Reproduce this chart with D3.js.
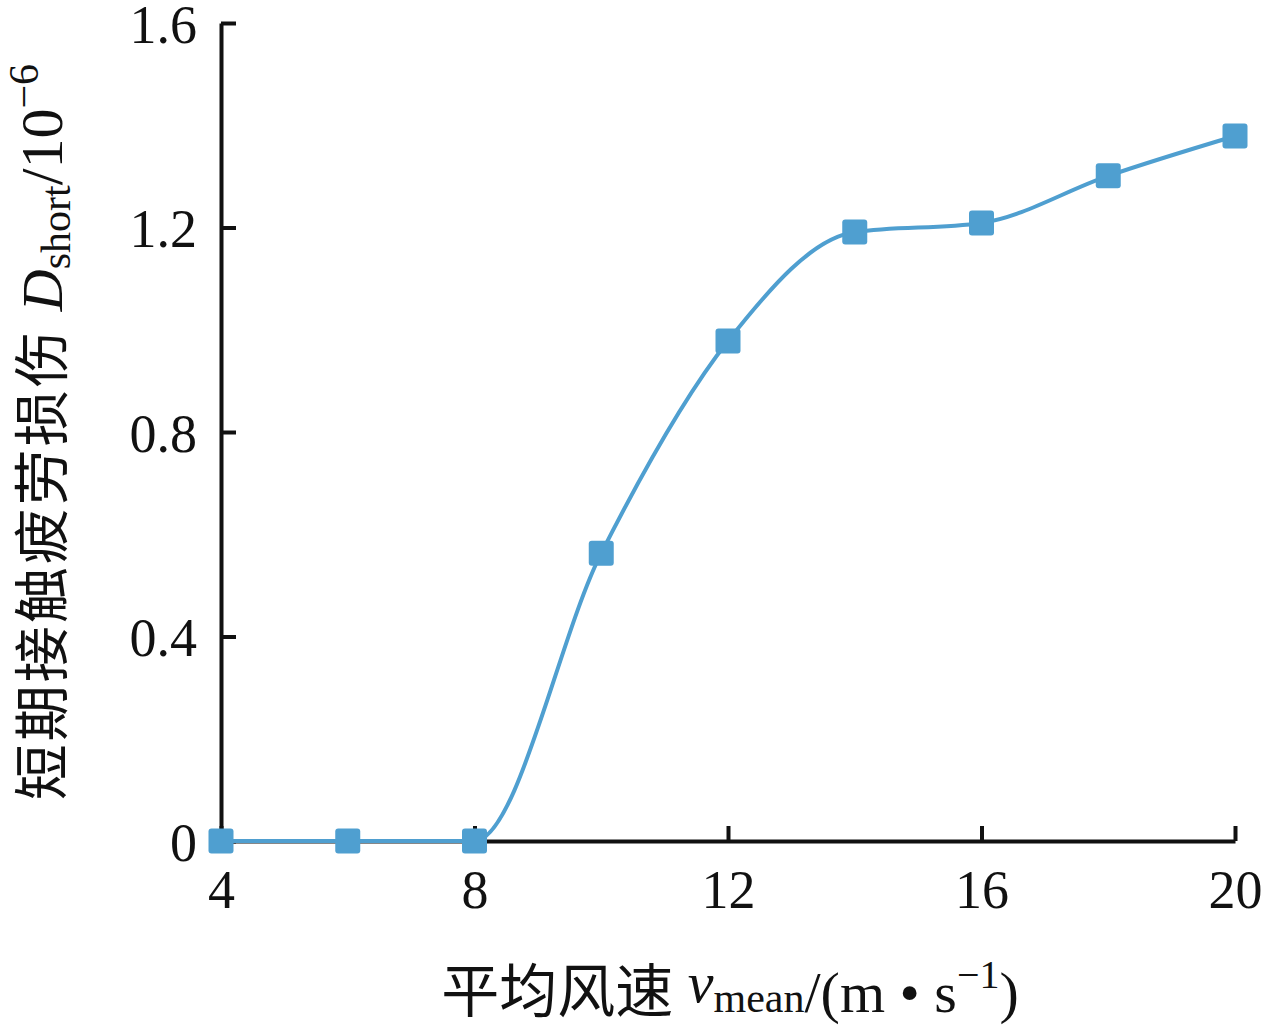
<!DOCTYPE html>
<html>
<head>
<meta charset="utf-8">
<script src="https://cdn.jsdelivr.net/npm/d3@7"></script>
<style>
  body { margin: 0; background: #fff; }
  svg text { font-family: "Liberation Serif", "Times New Roman", "Noto Sans CJK SC", serif; fill: #111; }
</style>
</head>
<body>
<div id="chart"></div>
<script>
// wind speed (m/s) and short term contact fatigue damage (1e-6)
const windSpeed = [4, 6, 8, 10, 12, 14, 16, 18, 20];
const damage = [0, 0, 0, 0.563, 0.978, 1.191, 1.209, 1.301, 1.379];
const xTicks = [4, 8, 12, 16, 20];
const yTicks = [0, 0.4, 0.8, 1.2, 1.6];

const width = 1265;
const height = 1025;
const color = "#4f9fd0";

const svg = d3.select("#chart")
  .append("svg")
  .attr("width", width)
  .attr("height", height);

// Scales
const x = d3.scaleLinear().domain([4, 20]).range([221, 1235]);
const y = d3.scaleLinear().domain([0, 1.6]).range([841, 23]);

// Axes, ticks pointing inwards
const xAxis = d3.axisBottom(x)
  .tickValues(xTicks)
  .tickSizeInner(-15)
  .tickSizeOuter(0)
  .tickPadding(29)
  .tickFormat(d3.format("d"));

const yAxis = d3.axisLeft(y)
  .tickValues(yTicks)
  .tickSizeInner(-15)
  .tickSizeOuter(0)
  .tickPadding(24)
  .tickFormat(d => (d === 0 ? "0" : d3.format(".1f")(d)));

const gx = svg.append("g")
  .attr("transform", "translate(0," + y(0) + ")")
  .call(xAxis);

const gy = svg.append("g")
  .attr("transform", "translate(" + x(4) + ",0)")
  .call(yAxis);

[gx, gy].forEach(g => {
  g.select(".domain").attr("stroke", "#111").attr("stroke-width", 4);
  g.selectAll(".tick line").attr("stroke", "#111").attr("stroke-width", 4);
  g.selectAll(".tick text")
    .attr("font-family", null)
    .attr("font-size", 54)
    .attr("fill", "#111");
});
// keep the top label inside the picture
gy.selectAll(".tick text").attr("dy", "0.36em");

// Smoothed line through the points (flat part stays flat)
const points = windSpeed.map((v, i) => ({ v: v, d: damage[i] }));

const line = d3.line()
  .x(p => x(p.v))
  .y(p => y(p.d))
  .curve(d3.curveMonotoneX);

svg.append("path")
  .datum(points)
  .attr("fill", "none")
  .attr("stroke", color)
  .attr("stroke-width", 4)
  .attr("d", line);

// square markers
const size = 25;
svg.selectAll("rect.marker")
  .data(points)
  .enter()
  .append("rect")
  .attr("class", "marker")
  .attr("x", p => x(p.v) - size / 2)
  .attr("y", p => y(p.d) - size / 2)
  .attr("width", size)
  .attr("height", size)
  .attr("rx", 3)
  .attr("fill", color);

// x axis title
const xTitle = svg.append("text")
  .attr("x", 730)
  .attr("y", 1012)
  .attr("text-anchor", "middle")
  .attr("font-size", 58);
xTitle.append("tspan").text("平均风速 ");
xTitle.append("tspan").attr("font-style", "italic").attr("dy", -10).text("v");
xTitle.append("tspan").attr("font-size", 42).attr("dy", 10).text("mean");
xTitle.append("tspan").text("/(m • s");
xTitle.append("tspan").attr("font-size", 40).attr("dy", -24).text("−1");
xTitle.append("tspan").attr("dy", 24).text(")");

// y axis title (rotated)
const yTitle = svg.append("text")
  .attr("transform", "translate(62,432) rotate(-90)")
  .attr("text-anchor", "middle")
  .attr("font-size", 56);
yTitle.append("tspan").attr("letter-spacing", 3).text("短期接触疲劳损伤 ");
yTitle.append("tspan").attr("font-style", "italic").attr("font-size", 58).text("D");
yTitle.append("tspan").attr("font-size", 42).attr("dy", 8).text("short");
yTitle.append("tspan").attr("dy", -8).attr("font-size", 60).text("/10");
yTitle.append("tspan").attr("font-size", 42).attr("dy", -24).text("−6");
</script>
</body>
</html>
